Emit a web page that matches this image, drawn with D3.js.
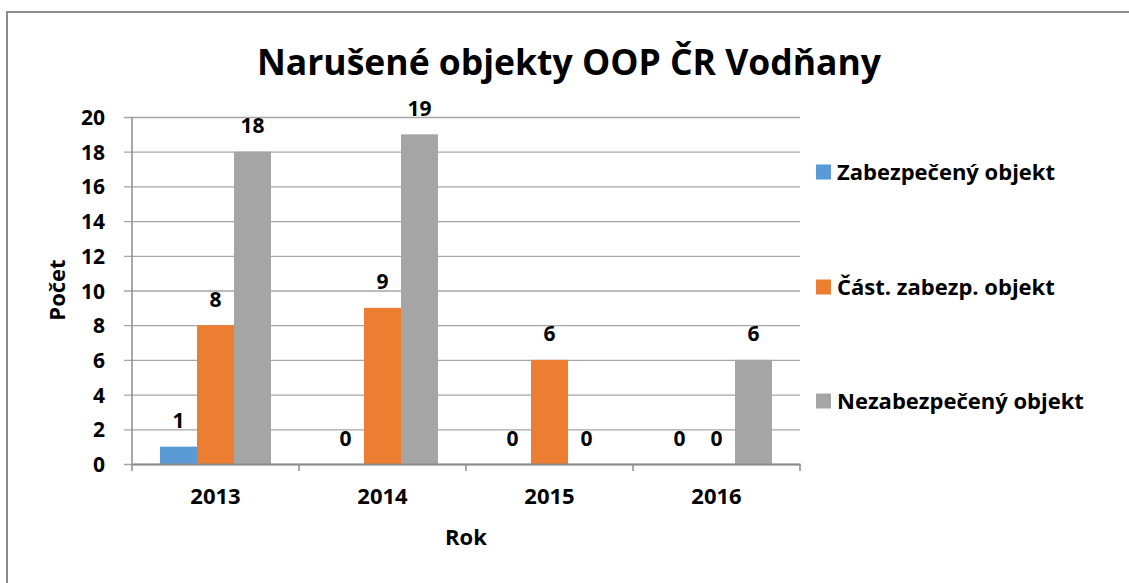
<!DOCTYPE html>
<html>
<head>
<meta charset="utf-8">
<script src="https://cdnjs.cloudflare.com/ajax/libs/d3/7.8.5/d3.min.js"></script>
<style>
  body { margin: 0; background: #fff; }
  text { font-family: "Open Sans", sans-serif; font-weight: bold; fill: #000; }
</style>
</head>
<body>
<script>
// chart data
var years = ["2013", "2014", "2015", "2016"];
var seriesNames = ["Zabezpečený objekt", "Část. zabezp. objekt", "Nezabezpečený objekt"];
var zabezpeceny = [1, 0, 0, 0];
var castZabezp = [8, 9, 6, 0];
var nezabezpeceny = [18, 19, 0, 6];
var yTicks = [0, 2, 4, 6, 8, 10, 12, 14, 16, 18, 20];
var colors = ["#5b9bd5", "#ed7d31", "#a5a5a5"];

var allSeries = [zabezpeceny, castZabezp, nezabezpeceny];

var w = 1129;
var h = 583;

// plot area (don't call it "top", that's window.top)
var plotL = 132, plotR = 800, plotT = 117, plotB = 464;

var svg = d3.select("body")
            .append("svg")
            .attr("width", w)
            .attr("height", h);

// outer chart border (runs off the right/bottom of the picture)
svg.append("rect")
   .attr("x", 7)
   .attr("y", 12)
   .attr("width", w + 20)
   .attr("height", h + 20)
   .attr("fill", "none")
   .attr("stroke", "#8c8c8c")
   .attr("stroke-width", 2);

var x0 = d3.scaleBand().domain(years).range([plotL, plotR]).paddingInner(0);
var x1 = d3.scaleBand().domain(seriesNames).range([0, x0.bandwidth()]).paddingInner(0).paddingOuter(0.757);
var y = d3.scaleLinear().domain([0, 20]).range([plotB, plotT]);

// gridlines + y axis
var yAxis = d3.axisLeft(y).tickValues(yTicks).tickSize(plotR - plotL + 8).tickSizeOuter(0).tickPadding(19);
var gy = svg.append("g")
  .attr("transform", "translate(" + plotR + ",0)")
  .call(yAxis);
gy.select(".domain").remove();
gy.selectAll(".tick line").attr("stroke", "#a6a6a6").attr("stroke-width", 1.3);
gy.selectAll(".tick text").style("font-size", "21px").attr("dy", "0.36em");

// y axis line
svg.append("line")
   .attr("x1", plotL).attr("x2", plotL)
   .attr("y1", plotT).attr("y2", plotB)
   .attr("stroke", "#8c8c8c").attr("stroke-width", 1.5);

// bars
years.forEach(function(yr, i) {
  var g = svg.append("g").attr("transform", "translate(" + x0(yr) + ",0)");
  allSeries.forEach(function(s, j) {
    g.append("rect")
     .attr("x", x1(seriesNames[j]))
     .attr("y", y(s[i]))
     .attr("width", x1.bandwidth())
     .attr("height", plotB - y(s[i]))
     .attr("fill", colors[j]);
    g.append("text")
     .attr("x", x1(seriesNames[j]) + x1.bandwidth() / 2)
     .attr("y", y(s[i]) - 18.5)
     .attr("text-anchor", "middle")
     .style("font-size", "21px")
     .text(s[i]);
  });
});

// x axis
var xAxis = d3.axisBottom(x0).tickSize(0).tickPadding(24);
var gx = svg.append("g")
  .attr("transform", "translate(0," + plotB + ")")
  .call(xAxis);
gx.select(".domain").attr("stroke", "#8c8c8c").attr("stroke-width", 2);
gx.selectAll(".tick text").style("font-size", "22px");

// category separators
var bounds = years.map(function(d) { return x0(d); }).concat([plotR]);
svg.selectAll(".sep")
   .data(bounds)
   .enter().append("line")
   .attr("x1", function(d) { return d; })
   .attr("x2", function(d) { return d; })
   .attr("y1", plotB)
   .attr("y2", plotB + 7)
   .attr("stroke", "#8c8c8c")
   .attr("stroke-width", 1.5);

// title
svg.append("text")
   .attr("x", 569)
   .attr("y", 75)
   .attr("text-anchor", "middle")
   .style("font-size", "35.5px")
   .text("Narušené objekty OOP ČR Vodňany");

// axis titles
svg.append("text")
   .attr("x", 466)
   .attr("y", 545)
   .attr("text-anchor", "middle")
   .style("font-size", "22px")
   .text("Rok");

svg.append("text")
   .attr("transform", "translate(65,290) rotate(-90)")
   .attr("text-anchor", "middle")
   .style("font-size", "22px")
   .text("Počet");

// legend
var legendY = [172, 287, 401];
var legend = svg.selectAll(".legend")
  .data(seriesNames)
  .enter().append("g")
  .attr("transform", function(d, i) { return "translate(816," + legendY[i] + ")"; });

legend.append("rect")
  .attr("x", 0)
  .attr("y", -7.5)
  .attr("width", 15)
  .attr("height", 15)
  .attr("fill", function(d, i) { return colors[i]; });

legend.append("text")
  .attr("x", 21)
  .attr("y", 8)
  .style("font-size", "22px")
  .text(function(d) { return d; });
</script>
</body>
</html>
